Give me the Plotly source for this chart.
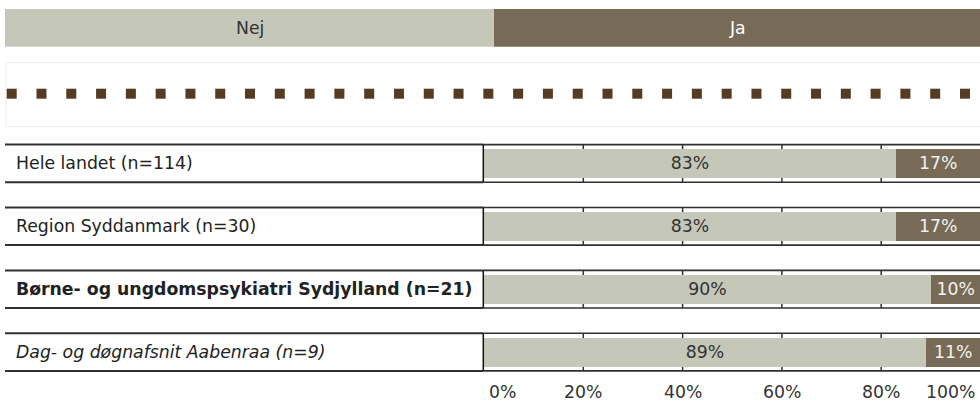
import plotly.graph_objects as go

# --- data -------------------------------------------------------------
categories = [
    "Hele landet (n=114)",
    "Region Syddanmark (n=30)",
    "Børne- og ungdomspsykiatri Sydjylland (n=21)",
    "Dag- og døgnafsnit Aabenraa (n=9)",
]
label_styles = ["normal", "normal", "bold", "italic"]
series_names = ["Nej", "Ja"]
nej_values = [83, 83, 90, 89]
ja_values = [17, 17, 10, 11]
tick_values = [0, 20, 40, 60, 80, 100]
tick_labels = ["0%", "20%", "40%", "60%", "80%", "100%"]

# --- styling ----------------------------------------------------------
W, H = 980, 403
FONT = "DejaVu Sans"
FS = 17.3
FS_BOLD = 17.3
C_NEJ = "#c5c7b9"
C_JA = "#776a57"
C_DOT = "#553a24"
C_LINE = "#303030"
TXT = "#333333"

# pixel geometry of the layout
X0_PX, X100_PX = 484.0, 980.5      # bar scale 0% .. 100%
ROW0_PX, PITCH = 163.4, 62.9       # centre of first row, row pitch
BOX_HALF = 18.8 / PITCH            # half height of a row box (data units)
BAR_W = 29.0 / PITCH               # bar thickness (data units)


def px_x(p):
    return p / W


def px_y(p):
    return 1 - p / H


rows = list(range(len(categories)))

fig = go.Figure()
fig.add_trace(go.Bar(
    y=rows, x=nej_values, orientation="h", name=series_names[0],
    marker=dict(color=C_NEJ, line=dict(width=0)), width=BAR_W,
    text=[f"{v}%" for v in nej_values], textposition="inside",
    insidetextanchor="middle", textangle=0,
    insidetextfont=dict(family=FONT, size=FS, color=TXT),
    hoverinfo="skip",
))
fig.add_trace(go.Bar(
    y=rows, x=ja_values, orientation="h", name=series_names[1],
    marker=dict(color=C_JA, line=dict(width=0)), width=BAR_W,
    text=[f"{v}%" for v in ja_values], textposition="inside",
    insidetextanchor="middle", textangle=0,
    insidetextfont=dict(family=FONT, size=FS, color="#f4f2ee"),
    hoverinfo="skip",
))

shapes = []
annotations = []

# header strip with the two answer categories
legend_top, legend_bot = 9.0, 46.7
split_px = 494.0
for name, color, xa, xb, tcol in [
    (series_names[0], C_NEJ, 5.0, split_px, TXT),
    (series_names[1], C_JA, split_px, W, "#ffffff"),
]:
    shapes.append(dict(type="rect", xref="paper", yref="paper",
                       x0=px_x(xa), x1=px_x(xb),
                       y0=px_y(legend_bot), y1=px_y(legend_top),
                       fillcolor=color, line=dict(width=0), layer="below"))
    annotations.append(dict(xref="paper", yref="paper",
                            x=px_x((xa + xb) / 2), y=px_y((legend_top + legend_bot) / 2),
                            text=name, showarrow=False, xanchor="center", yanchor="middle",
                            font=dict(family=FONT, size=FS, color=tcol)))

# dotted separator band
shapes.append(dict(type="rect", xref="paper", yref="paper",
                   x0=px_x(6), x1=px_x(W + 2), y0=px_y(126.7), y1=px_y(62.7),
                   fillcolor="rgba(0,0,0,0)", line=dict(color="#ececec", width=1),
                   layer="below"))
n_dots, dot_start, dot_step, dot_size = 33, 6.7, 29.79, 10.0
for i in range(n_dots):
    xa = dot_start + i * dot_step
    shapes.append(dict(type="rect", xref="paper", yref="paper",
                       x0=px_x(xa), x1=px_x(xa + dot_size),
                       y0=px_y(98.7), y1=px_y(88.7),
                       fillcolor=C_DOT, line=dict(width=0)))

# row frames, label cells and vertical gridlines
for r, (cat, style) in enumerate(zip(categories, label_styles)):
    top, bot = r - BOX_HALF, r + BOX_HALF
    for yy in (top, bot):
        shapes.append(dict(type="line", xref="paper", yref="y",
                           x0=px_x(5), x1=px_x(483.3), y0=yy, y1=yy,
                           line=dict(color=C_LINE, width=2)))
        shapes.append(dict(type="line", xref="paper", yref="y",
                           x0=px_x(483.3), x1=1, y0=yy, y1=yy,
                           line=dict(color=C_LINE, width=1.6)))
    shapes.append(dict(type="line", xref="paper", yref="y",
                       x0=px_x(483.3), x1=px_x(483.3), y0=top, y1=bot,
                       line=dict(color="#111111", width=1.5)))
    for tv in tick_values[1:-1]:
        shapes.append(dict(type="line", xref="x", yref="y",
                           x0=tv, x1=tv, y0=top, y1=bot,
                           line=dict(color=C_LINE, width=1.5), layer="below"))
    txt, size = cat, FS
    if style == "bold":
        txt, size = f"<b>{cat}</b>", FS_BOLD
    elif style == "italic":
        txt = f"<i>{cat}</i>"
    annotations.append(dict(xref="paper", yref="y", x=px_x(14), y=r,
                            text=txt, showarrow=False, xanchor="left", yanchor="middle",
                            font=dict(family=FONT, size=size, color="#222222")))

# percentage scale under the bars
for i, (tv, tl) in enumerate(zip(tick_values, tick_labels)):
    if i == 0:
        anchor, xref, xv = "left", "paper", px_x(486.5)
    elif i == len(tick_values) - 1:
        anchor, xref, xv = "right", "paper", px_x(977)
    else:
        anchor, xref, xv = "center", "x", tv
    annotations.append(dict(xref=xref, yref="paper", x=xv, y=px_y(391.5),
                            text=tl, showarrow=False, xanchor=anchor, yanchor="middle",
                            font=dict(family=FONT, size=FS, color=TXT)))

y_top = -ROW0_PX / PITCH
y_bot = (H - ROW0_PX) / PITCH

fig.update_layout(
    width=W, height=H,
    margin=dict(l=0, r=0, t=0, b=0),
    paper_bgcolor="white", plot_bgcolor="rgba(0,0,0,0)",
    barmode="stack", showlegend=False,
    xaxis=dict(domain=[X0_PX / W, 1],
               range=[0, 100 * (W - X0_PX) / (X100_PX - X0_PX)],
               visible=False, fixedrange=True),
    yaxis=dict(range=[y_bot, y_top], visible=False, fixedrange=True),
    shapes=shapes,
    annotations=annotations,
    uniformtext=dict(mode="show", minsize=8),
)

fig.write_html("out.html", include_plotlyjs=True, config={"displayModeBar": False})
